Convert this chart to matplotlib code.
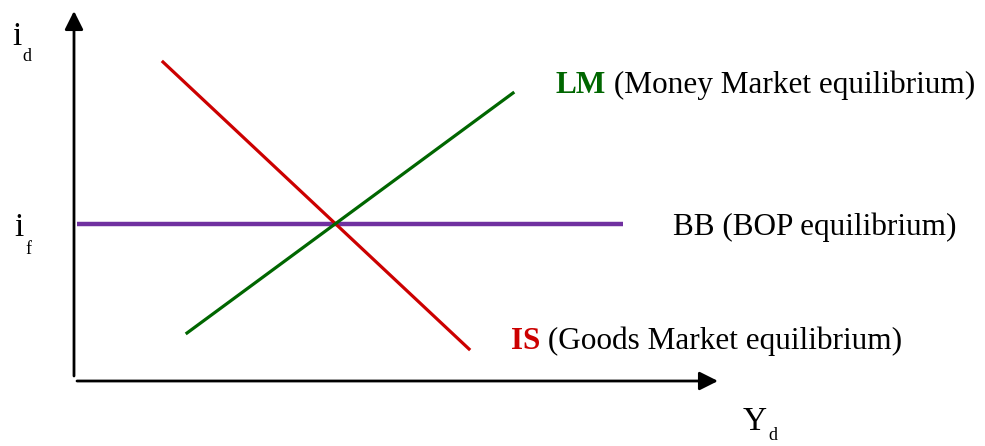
import matplotlib
matplotlib.use("Agg")
import matplotlib.pyplot as plt

# endpoints (pixel units, y grows downward)
is_x = [163, 469]
is_y = [62, 349]
lm_x = [187, 513]
lm_y = [333, 93]
bb_x = [77, 623]
bb_y = [224, 224]

curve_names = ["LM", "BB", "IS"]
curve_notes = ["(Money Market equilibrium)", "(BOP equilibrium)", "(Goods Market equilibrium)"]

plt.rcParams['font.family'] = ['Liberation Serif', 'DejaVu Serif']

fig = plt.figure(figsize=(9.85, 4.46), dpi=100)
ax = fig.add_axes([0, 0, 1, 1])
ax.set_xlim(0, 985)
ax.set_ylim(446, 0)
ax.axis('off')

# axes with arrows
ax.annotate('', xy=(74, 11), xytext=(74, 376),
            arrowprops=dict(arrowstyle='-|>', color='black', lw=2, mutation_scale=28, shrinkA=0, shrinkB=0))
ax.annotate('', xy=(718, 381), xytext=(77, 381),
            arrowprops=dict(arrowstyle='-|>', color='black', lw=2, mutation_scale=28, shrinkA=0, shrinkB=0))

ax.plot(bb_x, bb_y, color='#7030A0', lw=3.2, solid_capstyle='butt')
ax.plot(is_x, is_y, color='#CC0000', lw=2.3)
ax.plot(lm_x, lm_y, color='#006600', lw=2.3)

# axis labels with lowered subscripts
ax.text(12, 45, 'i', fontsize=24, va='baseline')
ax.text(22, 61, 'd', fontsize=13, va='baseline')
ax.text(14, 236, 'i', fontsize=24, va='baseline')
ax.text(25, 254, 'f', fontsize=13, va='baseline')
ax.text(743, 430, 'Y', fontsize=24, va='baseline')
ax.text(768, 440, 'd', fontsize=13, va='baseline')

# curve labels
lm = ax.text(556, 93, curve_names[0], fontsize=22.5, fontweight='bold', color='#006600', va='baseline')
ax.annotate(' ' + curve_notes[0], xy=(1, 0), xycoords=lm, fontsize=22.5, va='bottom')
ax.text(673, 235, curve_names[1] + ' ' + curve_notes[1], fontsize=22.5, va='baseline')
is_t = ax.text(511, 349, curve_names[2], fontsize=22.5, fontweight='bold', color='#CC0000', va='baseline')
ax.annotate(' ' + curve_notes[2], xy=(1, 0), xycoords=is_t, fontsize=22.5, va='bottom')

fig.savefig('out.png', dpi=100)
